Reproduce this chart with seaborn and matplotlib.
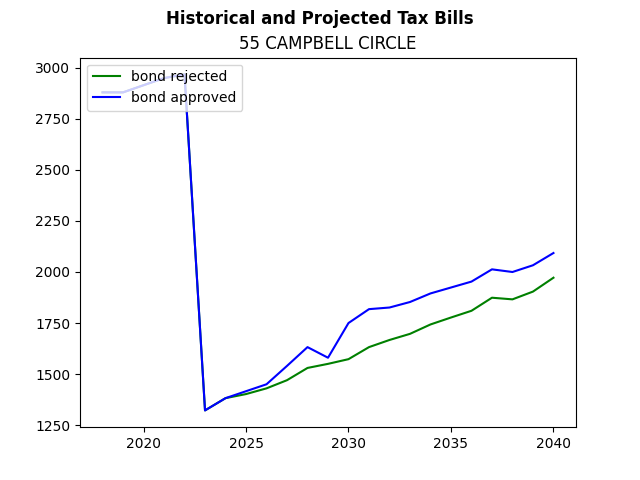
import pandas as pd
import matplotlib
matplotlib.use("Agg")
import matplotlib.pyplot as plt
import seaborn as sns

# ========== Data ==========
years = list(range(2018, 2041))
bond_rejected = [2880, 2880, 2915, 2950, 2968, 1322, 1382, 1402, 1430, 1470, 1530,
                 1550, 1573, 1632, 1667, 1697, 1743, 1777, 1810, 1874, 1866, 1904, 1972]
bond_approved = [2880, 2880, 2915, 2950, 2968, 1322, 1382, 1416, 1450, 1540, 1632,
                 1580, 1750, 1818, 1826, 1853, 1895, 1924, 1953, 2013, 2000, 2033, 2093]

df = pd.DataFrame({
    "year": years * 2,
    "tax": bond_rejected + bond_approved,
    "scenario": ["bond rejected"] * len(years) + ["bond approved"] * len(years),
})

# ========== Plot ==========
fig, ax = plt.subplots(figsize=(6.4, 4.8), dpi=100)
sns.lineplot(data=df, x="year", y="tax", hue="scenario",
             palette={"bond rejected": "green", "bond approved": "blue"}, ax=ax)

fig.suptitle("Historical and Projected Tax Bills", fontweight="bold")
ax.set_title("55 CAMPBELL CIRCLE")
ax.set_xlabel("")
ax.set_ylabel("")
ax.legend(title=None, loc="upper left")

plt.savefig("out.png")
